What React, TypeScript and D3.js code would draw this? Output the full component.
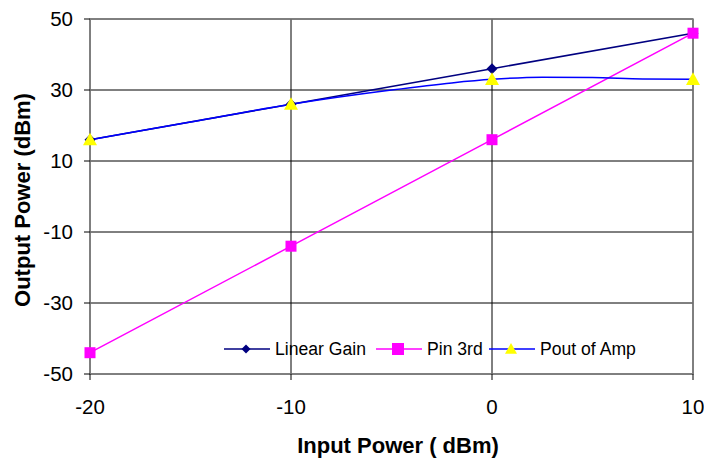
import * as d3 from "d3";

const inputPower = [-20, -10, 0, 10];
const linearGain = [16, 26, 36, 46];
const pin3rd = [-44, -14, 16, 46];
const poutMarkers = [16, 26, 33, 33];
const poutCurveX = [-20, -15, -10, -5, -2, 0, 2.5, 5, 7.5, 10];
const poutCurveY = [16, 21, 26, 30, 32, 33, 33.6, 33.5, 33.1, 33];
const xTicks = [-20, -10, 0, 10];
const yTicks = [50, 30, 10, -10, -30, -50];
const seriesNames = ["Linear Gain", "Pin 3rd", "Pout of Amp"];

const W = 704;
const H = 459;
const M = { top: 19, right: 11, bottom: 85, left: 90 };
const FONT = "'Liberation Sans', Arial, sans-serif";

export default function App() {
  const x = d3.scaleLinear().domain([-20, 10]).range([M.left, W - M.right]);
  const y = d3.scaleLinear().domain([-50, 50]).range([H - M.bottom, M.top]);
  const line = d3
    .line<[number, number]>()
    .x((d) => x(d[0]))
    .y((d) => y(d[1]));

  const lgPts = inputPower.map((v, i) => [v, linearGain[i]] as [number, number]);
  const pinPts = inputPower.map((v, i) => [v, pin3rd[i]] as [number, number]);
  const poutPts = poutCurveX.map((v, i) => [v, poutCurveY[i]] as [number, number]);
  const poutM = inputPower.map((v, i) => [v, poutMarkers[i]] as [number, number]);

  const x0 = x(-20), x1 = x(10), y0 = y(-50), y1 = y(50);

  const diamond = (cx: number, cy: number, r = 5.5) =>
    `M${cx},${cy - r}L${cx + r},${cy}L${cx},${cy + r}L${cx - r},${cy}Z`;
  const triangle = (cx: number, cy: number, r = 7) =>
    `M${cx},${cy - r}L${cx + r},${cy + r * 0.8}L${cx - r},${cy + r * 0.8}Z`;

  const legendY = 349;
  const legend = [
    { label: seriesNames[0], color: "#000080", x: 224, kind: "diamond" },
    { label: seriesNames[1], color: "#FF00FF", x: 376, kind: "square" },
    { label: seriesNames[2], color: "#0000FF", x: 489, kind: "triangle" },
  ];

  return (
    <svg width={W} height={H} style={{ display: "block", position: "absolute", left: 0, top: 0 }} fontFamily={FONT}>
      <rect width={W} height={H} fill="#fff" />
      {/* grid */}
      {yTicks.map((t) => (
        <line key={"gy" + t} x1={x0} x2={x1} y1={y(t)} y2={y(t)} stroke="#000" strokeWidth={1} />
      ))}
      {xTicks.map((t) => (
        <line key={"gx" + t} x1={x(t)} x2={x(t)} y1={y1} y2={y0} stroke="#000" strokeWidth={1} />
      ))}
      {/* frame */}
      <rect x={x0} y={y1} width={x1 - x0} height={y0 - y1} fill="none" stroke="#808080" strokeWidth={1.5} />
      {/* ticks */}
      {yTicks.map((t) => (
        <g key={"ty" + t}>
          <line x1={x0 - 6} x2={x0} y1={y(t)} y2={y(t)} stroke="#000" />
          <text x={x0 - 17} y={y(t)} dy="0.35em" textAnchor="end" fontSize={20.5}>
            {t}
          </text>
        </g>
      ))}
      {xTicks.map((t) => (
        <g key={"tx" + t}>
          <line x1={x(t)} x2={x(t)} y1={y0} y2={y0 + 6} stroke="#000" />
          <text x={x(t)} y={y0 + 33} dy="0.35em" textAnchor="middle" fontSize={20.5}>
            {t}
          </text>
        </g>
      ))}
      {/* titles */}
      <text x={398} y={445} dy="0.35em" textAnchor="middle" fontSize={22} fontWeight="bold">
        Input Power ( dBm)
      </text>
      <text
        transform={`translate(22,200) rotate(-90)`}
        dy="0.35em"
        textAnchor="middle"
        fontSize={22}
        fontWeight="bold"
      >
        Output Power (dBm)
      </text>
      {/* series */}
      <path d={line(lgPts) ?? ""} fill="none" stroke="#000080" strokeWidth={1.5} />
      <path d={line(pinPts) ?? ""} fill="none" stroke="#FF00FF" strokeWidth={1.5} />
      <path d={line.curve(d3.curveMonotoneX)(poutPts) ?? ""} fill="none" stroke="#0000FF" strokeWidth={1.5} />
      {lgPts.map((p, i) => (
        <path key={"d" + i} d={diamond(x(p[0]), y(p[1]))} fill="#000080" />
      ))}
      {pinPts.map((p, i) => (
        <rect key={"s" + i} x={x(p[0]) - 5.5} y={y(p[1]) - 5.5} width={11} height={11} fill="#FF00FF" />
      ))}
      {poutM.map((p, i) => (
        <path key={"t" + i} d={triangle(x(p[0]), y(p[1]))} fill="#FFFF00" />
      ))}
      {/* legend */}
      {legend.map((l) => (
        <g key={l.label}>
          <line x1={l.x} x2={l.x + 46} y1={legendY} y2={legendY} stroke={l.color} strokeWidth={1.5} />
          {l.kind === "diamond" && <path d={diamond(l.x + 22, legendY, 4.5)} fill="#000080" />}
          {l.kind === "square" && (
            <rect x={l.x + 16} y={legendY - 6} width={12} height={12} fill="#FF00FF" />
          )}
          {l.kind === "triangle" && <path d={triangle(l.x + 22, legendY, 6)} fill="#FFFF00" />}
          <text x={l.x + 51} y={legendY} dy="0.35em" fontSize={17.6}>
            {l.label}
          </text>
        </g>
      ))}
    </svg>
  );
}
